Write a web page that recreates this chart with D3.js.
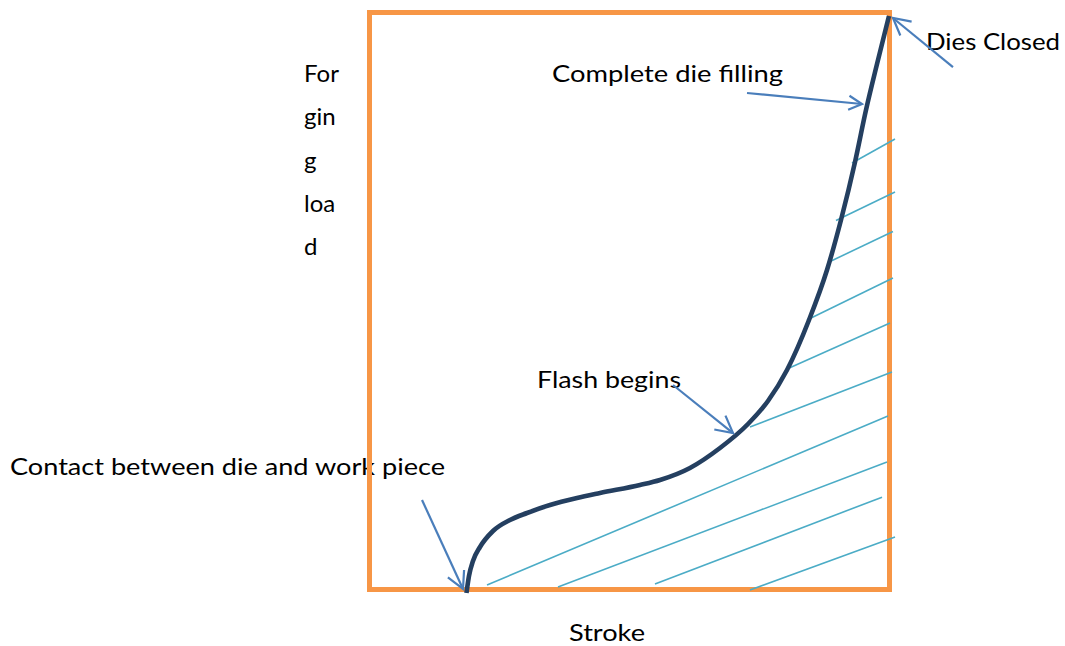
<!DOCTYPE html>
<html>
<head>
<meta charset="utf-8">
<script src="https://cdn.jsdelivr.net/npm/d3@7"></script>
<style>
  html, body { margin: 0; padding: 0; background: #ffffff; }
  svg { display: block; }
  text { font-family: Lato, "Open Sans", sans-serif; fill: #000; }
</style>
</head>
<body>
<svg id="chart" width="1065" height="646"></svg>
<script>
// ---- Data (stroke % of travel, load % of max) ----
const curveStroke = [18.65, 19.13, 19.9, 21.25, 23.75, 27.02, 30.29, 34.71, 39.9, 44.33, 52.02, 55.87, 61.63, 67.4, 72.79, 76.63, 80.29, 84.52, 87.98, 90.67, 93.37, 95.48, 97.6, 99.9];
const curveLoad   = [-0.6, 2.34, 4.94, 7.37, 10.14, 12.05, 13.26, 14.64, 15.86, 16.72, 18.11, 18.98, 21.06, 24.52, 28.68, 32.67, 38.04, 46.71, 55.37, 64.04, 74.09, 83.1, 91.07, 99.39];

// hatch lines (flash / energy region)
const hatchX1 = [92.79, 89.71, 88.17, 84.13, 80.29, 73.17, 22.6, 36.25, 54.9, 73.17];
const hatchY1 = [73.92, 63.95, 56.67, 46.71, 38.21, 28.15, 0.78, 0.43, 0.95, -0.09];
const hatchX2 = [101.06, 101.06, 100.67, 100.67, 100.1, 100.48, 99.71, 99.52, 98.56, 101.06];
const hatchY2 = [78.08, 68.89, 62.05, 53.99, 46.19, 37.69, 30.07, 22.1, 16.0, 9.1];

// annotations
const annoLabels = ["Dies Closed", "Complete die filling", "Flash begins", "Contact between die and work piece"];
const arrowTailX = [112.21, 72.6, 58.37, 10.1];
const arrowTailY = [90.55, 86.05, 35.44, 15.51];
const arrowTipX  = [100.67, 94.71, 69.9, 17.98];
const arrowTipY  = [99.05, 84.14, 27.12, 0.09];

const xLabel = "Stroke";
const yLabelLines = ["For", "gin", "g", "loa", "d"];

// ---- Layout ----
const svg = d3.select("#chart");
const x = d3.scaleLinear().domain([0, 100]).range([369.5, 889.5]);
const y = d3.scaleLinear().domain([0, 100]).range([589.5, 12.5]);

const labelPos = [
  {x: 926, y: 50, w: 134},
  {x: 552, y: 82, w: 231},
  {x: 537, y: 388, w: 144},
  {x: 10,  y: 475, w: 435}
];

// text labels (drawn first so the frame sits above them)
annoLabels.forEach((t, i) => {
  svg.append("text")
    .attr("x", labelPos[i].x)
    .attr("y", labelPos[i].y)
    .attr("font-size", 24)
    .attr("textLength", labelPos[i].w)
    .attr("lengthAdjust", "spacingAndGlyphs")
    .text(t);
});

svg.append("text")
  .attr("x", 569).attr("y", 641)
  .attr("font-size", 24)
  .attr("textLength", 76)
  .attr("lengthAdjust", "spacingAndGlyphs")
  .text(xLabel);

const yLineBase = [82, 125, 169, 212, 255];
yLabelLines.forEach((t, i) => {
  svg.append("text")
    .attr("x", 304).attr("y", yLineBase[i])
    .attr("font-size", 24)
    .text(t);
});

// frame
svg.append("rect")
  .attr("x", x(0)).attr("y", y(100))
  .attr("width", x(100) - x(0))
  .attr("height", y(0) - y(100))
  .attr("fill", "none")
  .attr("stroke", "#F79646")
  .attr("stroke-width", 5);

// hatch
svg.append("g").selectAll("line")
  .data(d3.range(hatchX1.length))
  .join("line")
  .attr("x1", i => x(hatchX1[i]))
  .attr("y1", i => y(hatchY1[i]))
  .attr("x2", i => x(hatchX2[i]))
  .attr("y2", i => y(hatchY2[i]))
  .attr("stroke", "#4BACC6")
  .attr("stroke-width", 1.6);

// curve
const pts = curveStroke.map((s, i) => [s, curveLoad[i]]);
svg.append("path")
  .datum(pts)
  .attr("fill", "none")
  .attr("stroke", "#243F60")
  .attr("stroke-width", 4.6)
  .attr("stroke-linecap", "butt")
  .attr("d", d3.line().x(d => x(d[0])).y(d => y(d[1])).curve(d3.curveMonotoneX));

// arrows
const headLen = [19, 15, 19, 19];
const headAng = 28 * Math.PI / 180;
arrowTipX.forEach((_, i) => {
  const tx = x(arrowTipX[i]), ty = y(arrowTipY[i]);
  const sx = x(arrowTailX[i]), sy = y(arrowTailY[i]);
  const a = Math.atan2(sy - ty, sx - tx);
  const L = headLen[i];
  const w1 = [tx + L * Math.cos(a + headAng), ty + L * Math.sin(a + headAng)];
  const w2 = [tx + L * Math.cos(a - headAng), ty + L * Math.sin(a - headAng)];
  svg.append("line")
    .attr("x1", sx).attr("y1", sy).attr("x2", tx).attr("y2", ty)
    .attr("stroke", "#4A7EBB").attr("stroke-width", 2.2);
  svg.append("path")
    .attr("d", `M${w1[0]},${w1[1]}L${tx},${ty}L${w2[0]},${w2[1]}`)
    .attr("fill", "none")
    .attr("stroke", "#4A7EBB").attr("stroke-width", 2.2)
    .attr("stroke-linejoin", "miter");
});
</script>
</body>
</html>
